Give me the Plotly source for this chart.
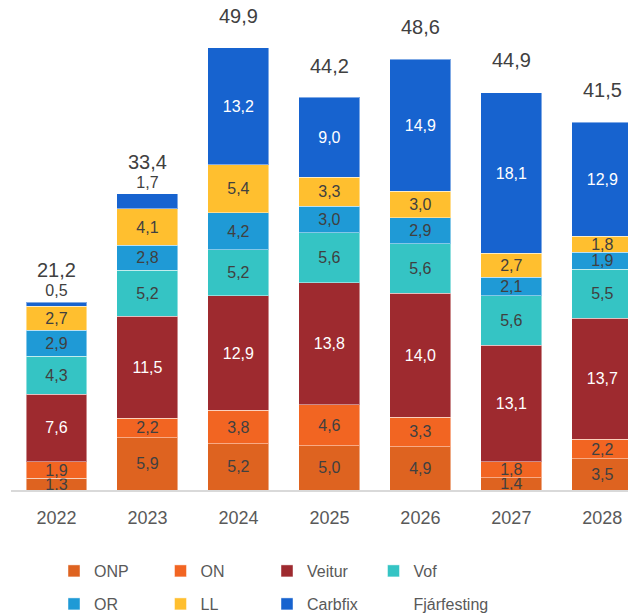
import plotly.graph_objects as go

years = ["2022", "2023", "2024", "2025", "2026", "2027", "2028"]

onp = [1.3, 5.9, 5.2, 5.0, 4.9, 1.4, 3.5]
on = [1.9, 2.2, 3.8, 4.6, 3.3, 1.8, 2.2]
veitur = [7.6, 11.5, 12.9, 13.8, 14.0, 13.1, 13.7]
vof = [4.3, 5.2, 5.2, 5.6, 5.6, 5.6, 5.5]
orr = [2.9, 2.8, 4.2, 3.0, 2.9, 2.1, 1.9]
ll = [2.7, 4.1, 5.4, 3.3, 3.0, 2.7, 1.8]
carbfix = [0.5, 1.7, 13.2, 9.0, 14.9, 18.1, 12.9]
totals = [21.2, 33.4, 49.9, 44.2, 48.6, 44.9, 41.5]

DARK = "#404040"
WHITE = "#ffffff"
FONT = "Liberation Sans, Arial, sans-serif"

# page body has an 8px margin, so the figure is sized to fit the window
W, H = 628, 606


def fmt(v):
    return f"{v:.1f}".replace(".", ",")


series = [
    ("ONP", onp, "#DE6320", DARK),
    ("ON", on, "#F26522", DARK),
    ("Veitur", veitur, "#9E2A2F", WHITE),
    ("Vof", vof, "#35C4C4", DARK),
    ("OR", orr, "#1F9AD6", DARK),
    ("LL", ll, "#FFBF2F", DARK),
    ("Carbfix", carbfix, "#1763CF", WHITE),
]

fig = go.Figure()

for name, vals, color, tcolor in series:
    # tiny segments on top of the stack get their label above the bar
    small_top = [name == "Carbfix" and v < 3 for v in vals]
    fig.add_trace(go.Bar(
        name=name,
        x=years,
        y=vals,
        marker=dict(color=color, line=dict(color="rgba(255,255,255,0.45)", width=1)),
        text=[fmt(v) for v in vals],
        textposition=["outside" if s else "inside" for s in small_top],
        insidetextanchor="middle",
        constraintext="none",
        textfont=dict(
            family=FONT,
            size=16,
            color=[DARK if s else tcolor for s in small_top],
        ),
        cliponaxis=False,
        legend="legend" if name in ("ONP", "ON", "Veitur", "Vof") else "legend2",
        hoverinfo="skip",
    ))

# totals series, only shown as legend entry + labels above the bars
fig.add_trace(go.Scatter(
    name="Fjárfesting",
    x=years,
    y=totals,
    mode="markers",
    marker=dict(color="rgba(0,0,0,0)", size=1),
    legend="legend2",
    legendwidth=100,
    hoverinfo="skip",
))

for i, tot in enumerate(totals):
    fig.add_annotation(
        x=i, y=tot, text=fmt(tot), showarrow=False,
        yanchor="bottom", yshift=19,
        font=dict(family=FONT, size=20, color=DARK),
    )

legend_common = dict(
    orientation="h",
    xref="container", yref="container",
    xanchor="left", yanchor="middle",
    entrywidth=61.5,
    traceorder="normal",
    font=dict(family=FONT, size=16, color="#595959"),
    bgcolor="rgba(0,0,0,0)",
)

fig.update_layout(
    width=W,
    height=H,
    barmode="stack",
    bargap=0.33,
    plot_bgcolor="white",
    paper_bgcolor="white",
    margin=dict(l=3, r=0, t=2, b=123.5),
    showlegend=True,
    legend=dict(x=46 / W, y=1 - 563 / H, **legend_common),
    legend2=dict(x=46 / W, y=1 - 596 / H, **legend_common),
    xaxis=dict(
        type="category",
        range=[-0.5, 6.37],
        showline=True,
        linecolor="#d9d9d9",
        linewidth=2,
        ticks="",
        ticklabelstandoff=10,
        tickfont=dict(family=FONT, size=18, color="#595959"),
        showgrid=False,
    ),
    yaxis=dict(
        range=[0, 54.14],
        visible=False,
        showgrid=False,
        zeroline=False,
    ),
)

fig.write_html("out.html")
